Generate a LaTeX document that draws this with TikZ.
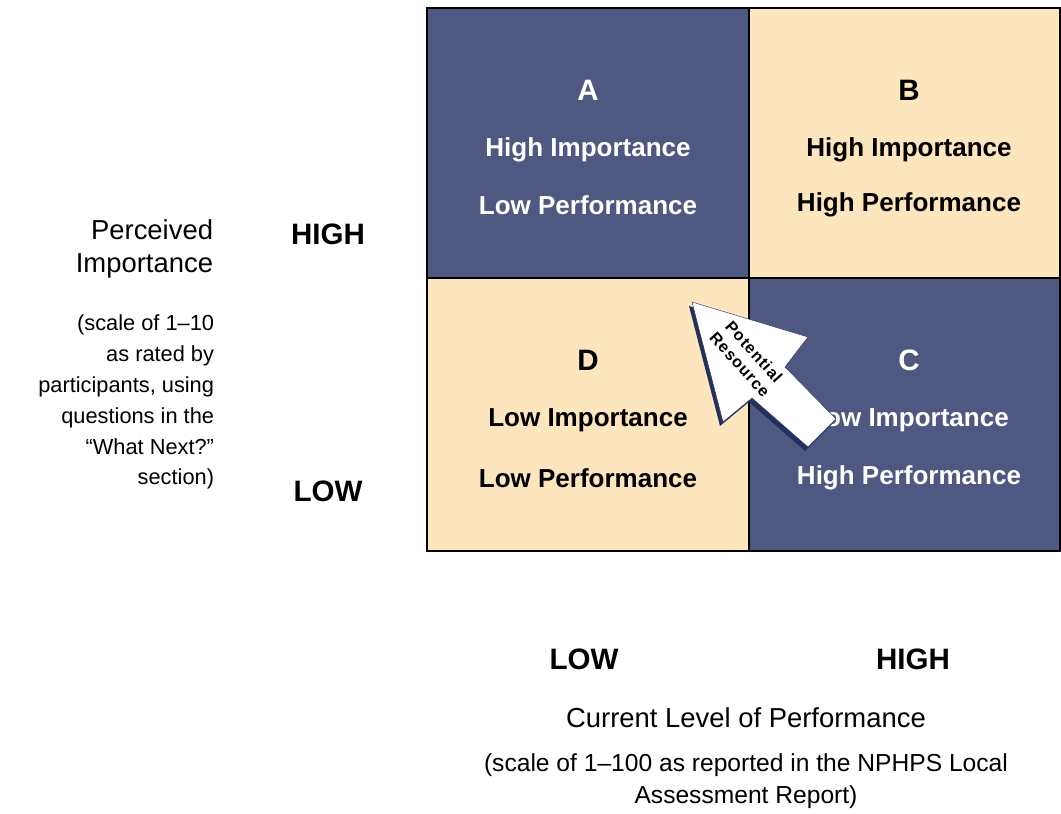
\documentclass[tikz,border=0pt]{standalone}
\usepackage{fontspec}
\setmainfont{Liberation Sans}
\usepackage{xcolor}
\usetikzlibrary{math}

\definecolor{navy}{RGB}{78,88,128}
\definecolor{navyshade}{RGB}{36,48,92}
\definecolor{beige}{RGB}{253,229,189}

\begin{document}
\begin{tikzpicture}[x=0.025cm, y=-0.025cm,
  letter/.style={font=\fontsize{21}{24}\bfseries\selectfont},
  celltext/.style={font=\fontsize{18.5}{22}\bfseries\selectfont},
  axistext/.style={font=\fontsize{19.5}{24}\selectfont},
  smalltext/.style={font=\fontsize{15.5}{22}\selectfont},
  level/.style={font=\fontsize{21}{24}\bfseries\selectfont}]
\tikzmath{
\xl=427; \xm=749; \xr=1060;
\yt=8; \ym=278; \yb=551;
}
\useasboundingbox (0,0) rectangle (1061,814);

% quadrants
\fill[navy]  (\xl,\yt) rectangle (\xm,\ym);
\fill[beige] (\xm,\yt) rectangle (\xr,\ym);
\fill[beige] (\xl,\ym) rectangle (\xm,\yb);
\fill[navy]  (\xm,\ym) rectangle (\xr,\yb);
\draw[line width=1] (\xl,\yt) rectangle (\xr,\yb);
\draw[line width=1] (\xm,\yt) -- (\xm,\yb);
\draw[line width=1] (\xl,\ym) -- (\xr,\ym);

\node[letter, white] (qa) at (588,90) {A};
\node[celltext, white] (qa1) at (588,150) {High Importance};
\node[celltext, white] (qa2) at (588,205) {Low Performance};

\node[letter] (qb) at (909,90) {B};
\node[celltext] (qb1) at (909,150) {High Importance};
\node[celltext] (qb2) at (909,205) {High Performance};

\node[letter] (qd) at (588,360) {D};
\node[celltext] (qd1) at (588,420) {Low Importance};
\node[celltext] (qd2) at (588,478) {Low Performance};

\node[letter, white] (qc) at (909,360) {C};
\node[celltext, white] (qc1) at (909,420) {Low Importance};
\node[celltext, white] (qc2) at (909,478) {High Performance};

% potential resource arrow
\begin{scope}[shift={(-3,4)}]
\fill[navyshade] (692,302) -- (723,422) -- (752,398) -- (808,447)
  -- (836,419) -- (785,367) -- (808,337) -- cycle;
\end{scope}
\filldraw[fill=white, draw=navyshade, line width=0.3] (692,302) -- (723,422)
  -- (752,398) -- (808,447) -- (836,419) -- (785,367) -- (808,337) -- cycle;
\node[rotate=-48, align=center, inner sep=1pt,
  font=\fontsize{11.5}{13.5}\bfseries\addfontfeatures{LetterSpace=6}\selectfont]
  (res) at (747,358) {Potential\\Resource};

% vertical axis
\node[axistext, anchor=east, align=right] (pimp) at (218,249) {Perceived\\Importance};
\node[smalltext, anchor=east, align=right] (pscale) at (219,402)
  {(scale of 1--10\\as rated by\\participants, using\\questions in the\\“What Next?”\\section)};
\node[level] (vhigh) at (328,234) {HIGH};
\node[level] (vlow) at (328,491) {LOW};

% horizontal axis
\node[level] (hlow) at (584,659) {LOW};
\node[level] (hhigh) at (913,659) {HIGH};
\node[axistext] (perf) at (746,718) {Current Level of Performance};
\node[smalltext, align=center, font=\fontsize{17.5}{22.5}\selectfont] (hscale) at (746,781)
  {(scale of 1--100 as reported in the NPHPS Local\\Assessment Report)};
\end{tikzpicture}
\end{document}
